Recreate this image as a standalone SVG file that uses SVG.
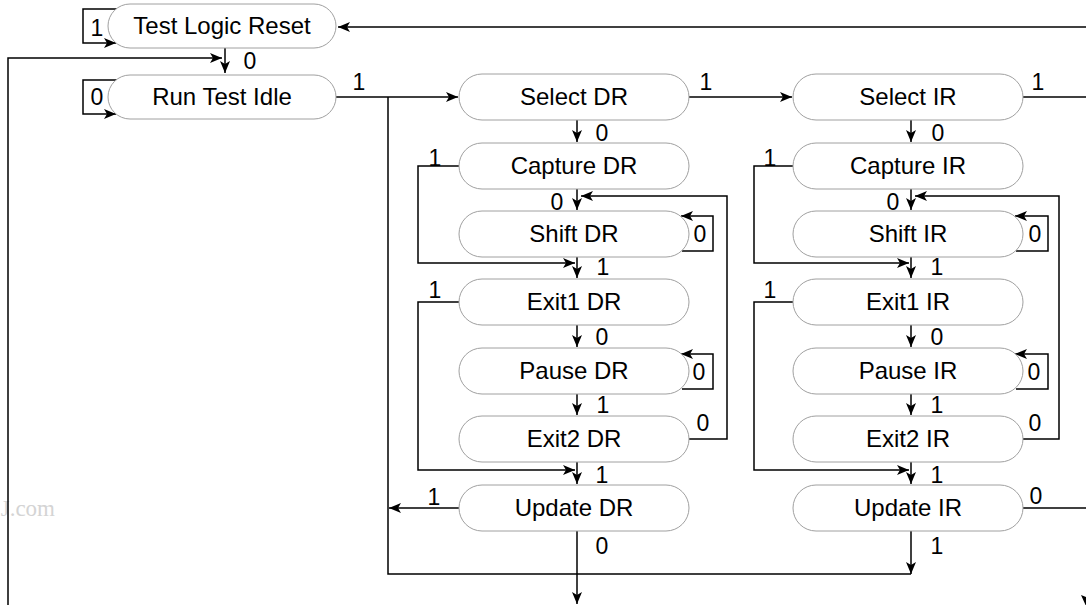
<svg xmlns="http://www.w3.org/2000/svg" width="1086" height="605" viewBox="0 0 1086 605">
<style>
.n rect{fill:#fff;stroke:#a0a0a0;stroke-width:1}
.n text{font-family:"Liberation Sans",Arial,sans-serif;font-size:24px;fill:#000;text-anchor:middle}
.c path{fill:none;stroke:#000;stroke-width:1.5}
.c .a{marker-end:url(#ah)}
.l text{font-family:"Liberation Sans",Arial,sans-serif;font-size:23px;fill:#000;text-anchor:middle}
</style>
<defs>
<marker id="ah" markerUnits="userSpaceOnUse" markerWidth="13" markerHeight="11" refX="12" refY="5" orient="auto">
<path d="M0,0 L12,5 L0,10 L3,5 z" fill="#000"/>
</marker>
</defs>
<rect width="1086" height="605" fill="#fff"/>
<text x="55" y="516" font-family="'Liberation Serif',serif" font-size="23" fill="#d4d4d4" text-anchor="end">J.com</text>
<g class="c">
<path class="a" d="M1086,27 H338"/>
<path class="a" d="M117,9 H83 V43 H116"/>
<path class="a" d="M225,48 V73"/>
<path class="a" d="M8,605 V58 H222"/>
<path class="a" d="M117,80 H83 V114 H116"/>
<path class="a" d="M336,97 H458"/>
<path d="M388,97 V574 H911"/>
<path class="a" d="M689,97 H792"/>
<path d="M1023,97 H1086"/>
<path class="a" d="M577,120 V142"/>
<path class="a" d="M577,189 V210"/>
<path class="a" d="M577,257 V278"/>
<path class="a" d="M577,325 V347"/>
<path class="a" d="M577,394 V415"/>
<path class="a" d="M577,462 V484"/>
<path class="a" d="M689,439 H727 V196 H581"/>
<path class="a" d="M459,166 H418 V263 H575"/>
<path class="a" d="M459,302 H418 V470 H575"/>
<path class="a" d="M682,251 H713 V216 H681"/>
<path class="a" d="M682,389 H713 V354 H681"/>
<path class="a" d="M459,508 H389"/>
<path class="a" d="M577,531 V604"/>
<path class="a" d="M911,120 V142"/>
<path class="a" d="M911,189 V210"/>
<path class="a" d="M911,257 V278"/>
<path class="a" d="M911,325 V347"/>
<path class="a" d="M911,394 V415"/>
<path class="a" d="M911,462 V484"/>
<path class="a" d="M1023,439 H1059 V196 H915"/>
<path class="a" d="M793,166 H754 V263 H909"/>
<path class="a" d="M793,302 H754 V470 H909"/>
<path class="a" d="M1016,251 H1048 V216 H1015"/>
<path class="a" d="M1016,389 H1048 V354 H1015"/>
<path class="a" d="M911,531 V574"/>
<path d="M1023,508 H1086"/>
<polygon points="1081,595 1086,597 1091,595 1086,606" fill="#000"/>
</g>
<g id="test-logic-reset" class="n"><rect x="108" y="4" width="228" height="44" rx="22"/><text x="222" y="34">Test Logic Reset</text></g>
<g id="run-test-idle" class="n"><rect x="108" y="75" width="228" height="44" rx="22"/><text x="222" y="105">Run Test Idle</text></g>
<g id="select-dr" class="n"><rect x="459" y="74" width="230" height="46" rx="23"/><text x="574" y="105">Select DR</text></g>
<g id="capture-dr" class="n"><rect x="459" y="143" width="230" height="46" rx="23"/><text x="574" y="174">Capture DR</text></g>
<g id="shift-dr" class="n"><rect x="459" y="211" width="230" height="46" rx="23"/><text x="574" y="242">Shift DR</text></g>
<g id="exit1-dr" class="n"><rect x="459" y="279" width="230" height="46" rx="23"/><text x="574" y="310">Exit1 DR</text></g>
<g id="pause-dr" class="n"><rect x="459" y="348" width="230" height="46" rx="23"/><text x="574" y="379">Pause DR</text></g>
<g id="exit2-dr" class="n"><rect x="459" y="416" width="230" height="46" rx="23"/><text x="574" y="447">Exit2 DR</text></g>
<g id="update-dr" class="n"><rect x="459" y="485" width="230" height="46" rx="23"/><text x="574" y="516">Update DR</text></g>
<g id="select-ir" class="n"><rect x="793" y="74" width="230" height="46" rx="23"/><text x="908" y="105">Select IR</text></g>
<g id="capture-ir" class="n"><rect x="793" y="143" width="230" height="46" rx="23"/><text x="908" y="174">Capture IR</text></g>
<g id="shift-ir" class="n"><rect x="793" y="211" width="230" height="46" rx="23"/><text x="908" y="242">Shift IR</text></g>
<g id="exit1-ir" class="n"><rect x="793" y="279" width="230" height="46" rx="23"/><text x="908" y="310">Exit1 IR</text></g>
<g id="pause-ir" class="n"><rect x="793" y="348" width="230" height="46" rx="23"/><text x="908" y="379">Pause IR</text></g>
<g id="exit2-ir" class="n"><rect x="793" y="416" width="230" height="46" rx="23"/><text x="908" y="447">Exit2 IR</text></g>
<g id="update-ir" class="n"><rect x="793" y="485" width="230" height="46" rx="23"/><text x="908" y="516">Update IR</text></g>
<g class="l">
<text x="97" y="36">1</text>
<text x="250" y="69">0</text>
<text x="97" y="105">0</text>
<text x="359" y="90">1</text>
<text x="706" y="90">1</text>
<text x="1038" y="90">1</text>
<text x="602" y="141">0</text>
<text x="435" y="166">1</text>
<text x="557" y="210">0</text>
<text x="700" y="242">0</text>
<text x="603" y="275">1</text>
<text x="435" y="298">1</text>
<text x="602" y="345">0</text>
<text x="699" y="380">0</text>
<text x="603" y="413">1</text>
<text x="703" y="431">0</text>
<text x="602" y="483">1</text>
<text x="434" y="505">1</text>
<text x="602" y="554">0</text>
<text x="938" y="141">0</text>
<text x="770" y="166">1</text>
<text x="893" y="210">0</text>
<text x="1035" y="242">0</text>
<text x="937" y="275">1</text>
<text x="770" y="298">1</text>
<text x="937" y="345">0</text>
<text x="1034" y="380">0</text>
<text x="937" y="413">1</text>
<text x="1035" y="431">0</text>
<text x="937" y="483">1</text>
<text x="1036" y="504">0</text>
<text x="937" y="554">1</text>
</g>
</svg>
